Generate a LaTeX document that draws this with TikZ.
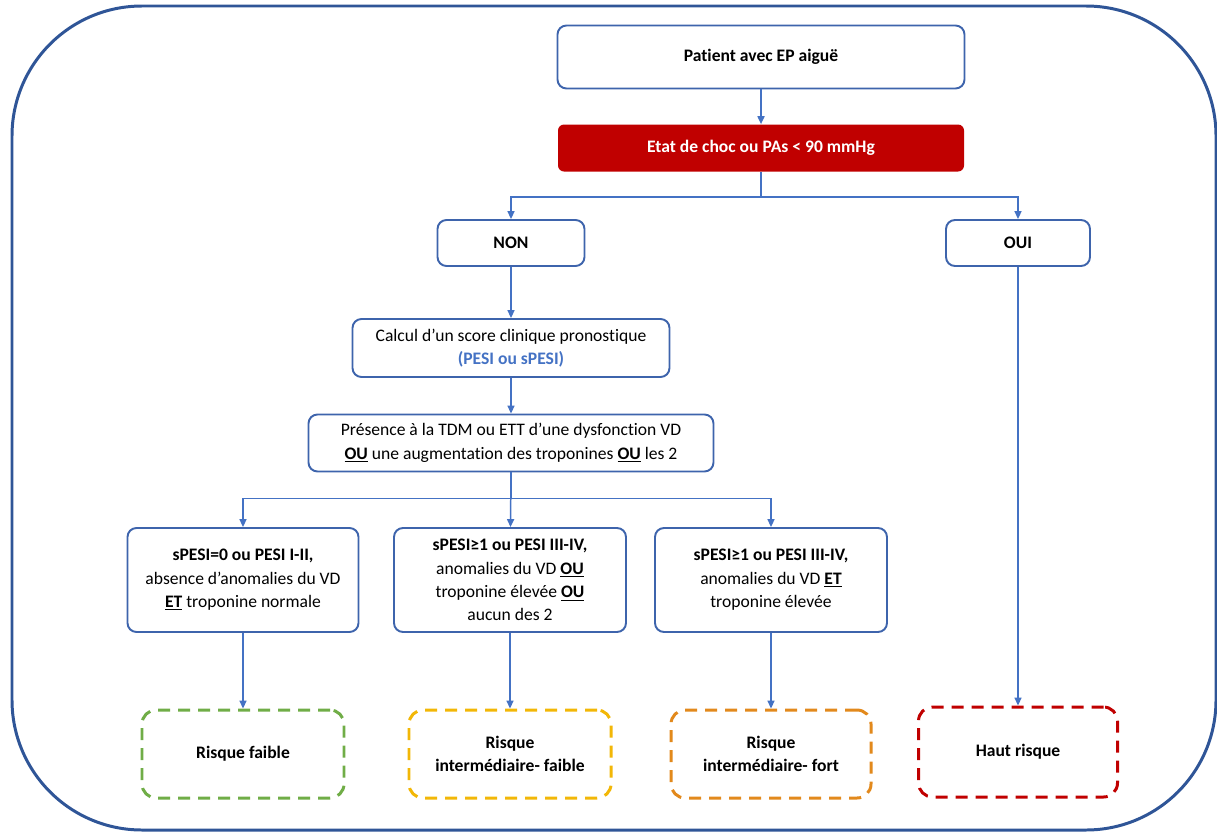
\documentclass[tikz,border=0pt]{standalone}
\usepackage{fontspec}
\setmainfont{Carlito}[Ligatures=NoCommon]
\usepackage{tikz}
\usetikzlibrary{arrows.meta}
\newlength{\pxu}
\setlength{\pxu}{0.02cm}
\definecolor{cadre}{HTML}{2F5597}
\definecolor{bord}{HTML}{3E64AC}
\definecolor{fleche}{HTML}{4472C4}
\definecolor{rouge}{HTML}{C00000}
\definecolor{vert}{HTML}{70AD47}
\definecolor{jaune}{HTML}{F2B707}
\definecolor{orange}{HTML}{E2891C}
\newcommand{\txt}{\fontsize{10}{13.3}\selectfont}

\begin{document}
\begin{tikzpicture}[x=1\pxu, y=-1\pxu,
    boite/.style={draw=bord, line width=1.1pt, rounded corners=9\pxu, fill=white,
      align=center, font=\txt, inner sep=2pt},
    choc/.style={fill=rouge, rounded corners=6\pxu, text=white, font=\txt\bfseries},
    risque/.style={line width=1.7pt, dash pattern=on 12\pxu off 8\pxu,
      rounded corners=14\pxu, align=center, font=\txt\bfseries},
    fl/.style={draw=fleche, line width=0.85pt, -{Triangle[length=4.5pt,width=4pt]}}]
  \useasboundingbox (0,0) rectangle (1217,832);
  \draw[cadre, line width=1.7pt, rounded corners=130\pxu] (12,6) rectangle (1216,830);

  \node[boite, font=\txt\bfseries, minimum width=407\pxu, minimum height=63\pxu] (EP) at (761,57) {Patient avec EP aiguë};
  \node[choc, minimum width=406\pxu, minimum height=47\pxu] (Choc) at (761,148) {Etat de choc ou PAs < 90 mmHg};
  \node[boite, font=\txt\bfseries, minimum width=147\pxu, minimum height=46\pxu] (Non) at (511,243) {NON};
  \node[boite, font=\txt\bfseries, minimum width=144\pxu, minimum height=46\pxu] (Oui) at (1018,243) {OUI};
  \node[boite, minimum width=317\pxu, minimum height=58\pxu] (Score) at (511,348)
    {Calcul d’un score clinique pronostique\\ \textcolor{fleche}{\textbf{(PESI ou sPESI)}}};
  \node[boite, minimum width=405\pxu, minimum height=57\pxu] (VD) at (511,443)
    {Présence à la TDM ou ETT d’une dysfonction VD\\ \underline{\textbf{OU}} une augmentation des troponines \underline{\textbf{OU}} les 2};
  \node[boite, minimum width=231\pxu, minimum height=104\pxu] (S1) at (243,580)
    {\textbf{sPESI=0 ou PESI I-II,}\\ absence d’anomalies du VD\\ \underline{\textbf{ET}} troponine normale};
  \node[boite, minimum width=232\pxu, minimum height=104\pxu] (S2) at (510,580)
    {\textbf{sPESI≥1 ou PESI III-IV,}\\ anomalies du VD \underline{\textbf{OU}}\\ troponine élevée \underline{\textbf{OU}}\\ aucun des 2};
  \node[boite, minimum width=232\pxu, minimum height=104\pxu] (S3) at (771,580)
    {\textbf{sPESI≥1 ou PESI III-IV,}\\ anomalies du VD \underline{\textbf{ET}}\\ troponine élevée};
  \node[risque, draw=vert, minimum width=202\pxu, minimum height=88\pxu] (R1) at (243,754) {Risque faible};
  \node[risque, draw=jaune, minimum width=202\pxu, minimum height=88\pxu] (R2) at (510,754) {Risque\\ intermédiaire- faible};
  \node[risque, draw=orange, minimum width=200\pxu, minimum height=88\pxu] (R3) at (771,754) {Risque\\ intermédiaire- fort};
  \node[risque, draw=rouge, minimum width=199\pxu, minimum height=90\pxu] (R4) at (1018,752) {Haut risque};

  \draw[fl] (EP) -- (Choc);
  \draw[fl] (Choc.south) -- ++(0,25) -| (Non);
  \draw[fl] (Choc.south) -- ++(0,25) -| (Oui);
  \draw[fl] (Non) -- (Score);
  \draw[fl] (Score) -- (VD);
  \draw[fl] (VD.south) -- ++(0,26) -| (S1);
  \draw[fl] (VD.south) -- (S2);
  \draw[fl] (VD.south) -- ++(0,26) -| (S3);
  \draw[fl] (S1) -- (R1);
  \draw[fl] (S2) -- (R2);
  \draw[fl] (S3) -- (R3);
  \draw[fl] (Oui) -- (R4);
\end{tikzpicture}
\end{document}
